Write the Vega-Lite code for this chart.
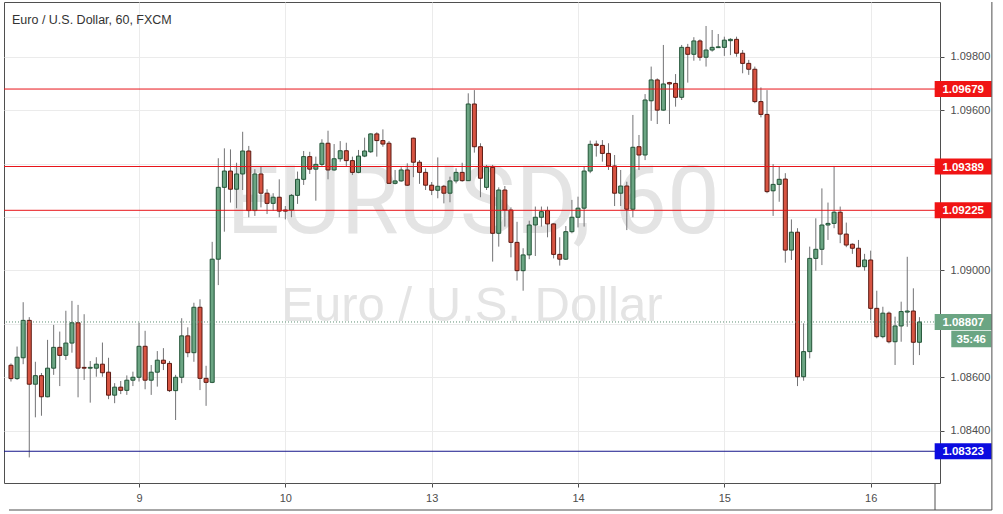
{
  "$schema": "https://vega.github.io/schema/vega-lite/v6.json",
  "width": 936,
  "height": 481,
  "autosize": "none",
  "padding": {"left": 4, "top": 2, "right": 63, "bottom": 31},
  "background": "#ffffff",
  "title": {"text": "Euro / U.S. Dollar, 60, FXCM", "anchor": "start", "frame": "group", "orient": "top", "offset": -23, "dx": 8, "dy": 12, "fontSize": 12.5, "font": "Liberation Sans", "fontWeight": "normal", "color": "#333333", "baseline": "alphabetic"},
  "config": {
    "view": {"stroke": "#4f4f4f", "strokeWidth": 1},
    "axis": {"labelFont": "Liberation Sans", "labelFontSize": 11, "labelColor": "#4d4d4d", "tickColor": "#4d4d4d", "gridColor": "#ebebeb", "domain": false}
  },
  "datasets": {
    "candles": [
      {"i":0,"o":1.08645,"h":1.08652,"l":1.08584,"c":1.08595},
      {"i":1,"o":1.08595,"h":1.08715,"l":1.08590,"c":1.08675},
      {"i":2,"o":1.08673,"h":1.08881,"l":1.08649,"c":1.08813},
      {"i":3,"o":1.08813,"h":1.08825,"l":1.08300,"c":1.08574},
      {"i":4,"o":1.08574,"h":1.08658,"l":1.08450,"c":1.08606},
      {"i":5,"o":1.08606,"h":1.08616,"l":1.08456,"c":1.08527},
      {"i":6,"o":1.08527,"h":1.08740,"l":1.08525,"c":1.08634},
      {"i":7,"o":1.08634,"h":1.08796,"l":1.08609,"c":1.08712},
      {"i":8,"o":1.08712,"h":1.08771,"l":1.08567,"c":1.08682},
      {"i":9,"o":1.08682,"h":1.08849,"l":1.08665,"c":1.08728},
      {"i":10,"o":1.08728,"h":1.08886,"l":1.08692,"c":1.08804},
      {"i":11,"o":1.08804,"h":1.08871,"l":1.08525,"c":1.08634},
      {"i":12,"o":1.08637,"h":1.08836,"l":1.08590,"c":1.08634},
      {"i":13,"o":1.08634,"h":1.08661,"l":1.08505,"c":1.08637},
      {"i":14,"o":1.08634,"h":1.08675,"l":1.08602,"c":1.08649},
      {"i":15,"o":1.08649,"h":1.08730,"l":1.08602,"c":1.08617},
      {"i":16,"o":1.08619,"h":1.08673,"l":1.08518,"c":1.08533},
      {"i":17,"o":1.08533,"h":1.08578,"l":1.08503,"c":1.08563},
      {"i":18,"o":1.08563,"h":1.08586,"l":1.08537,"c":1.08551},
      {"i":19,"o":1.08551,"h":1.08607,"l":1.08534,"c":1.08589},
      {"i":20,"o":1.08589,"h":1.08621,"l":1.08567,"c":1.08600},
      {"i":21,"o":1.08600,"h":1.08804,"l":1.08584,"c":1.08716},
      {"i":22,"o":1.08716,"h":1.08774,"l":1.08555,"c":1.08589},
      {"i":23,"o":1.08589,"h":1.08646,"l":1.08534,"c":1.08619},
      {"i":24,"o":1.08619,"h":1.08698,"l":1.08565,"c":1.08664},
      {"i":25,"o":1.08664,"h":1.08709,"l":1.08627,"c":1.08652},
      {"i":26,"o":1.08652,"h":1.08661,"l":1.08545,"c":1.08550},
      {"i":27,"o":1.08550,"h":1.08609,"l":1.08440,"c":1.08600},
      {"i":28,"o":1.08600,"h":1.08821,"l":1.08578,"c":1.08755},
      {"i":29,"o":1.08755,"h":1.08787,"l":1.08675,"c":1.08692},
      {"i":30,"o":1.08692,"h":1.08879,"l":1.08658,"c":1.08862},
      {"i":31,"o":1.08862,"h":1.08892,"l":1.08552,"c":1.08596},
      {"i":32,"o":1.08596,"h":1.08643,"l":1.08493,"c":1.08581},
      {"i":33,"o":1.08581,"h":1.09107,"l":1.08578,"c":1.09042},
      {"i":34,"o":1.09042,"h":1.09420,"l":1.08945,"c":1.09311},
      {"i":35,"o":1.09311,"h":1.09457,"l":1.09145,"c":1.09372},
      {"i":36,"o":1.09372,"h":1.09453,"l":1.09254,"c":1.09304},
      {"i":37,"o":1.09304,"h":1.09403,"l":1.09233,"c":1.09361},
      {"i":38,"o":1.09361,"h":1.09519,"l":1.09301,"c":1.09447},
      {"i":39,"o":1.09447,"h":1.09466,"l":1.09199,"c":1.09224},
      {"i":40,"o":1.09224,"h":1.09379,"l":1.09204,"c":1.09361},
      {"i":41,"o":1.09361,"h":1.09388,"l":1.09236,"c":1.09289},
      {"i":42,"o":1.09289,"h":1.09304,"l":1.09211,"c":1.09251},
      {"i":43,"o":1.09251,"h":1.09289,"l":1.09224,"c":1.09274},
      {"i":44,"o":1.09274,"h":1.09341,"l":1.09199,"c":1.09222},
      {"i":45,"o":1.09226,"h":1.09241,"l":1.09191,"c":1.09222},
      {"i":46,"o":1.09226,"h":1.09286,"l":1.09199,"c":1.09281},
      {"i":47,"o":1.09281,"h":1.09370,"l":1.09249,"c":1.09341},
      {"i":48,"o":1.09341,"h":1.09447,"l":1.09320,"c":1.09426},
      {"i":49,"o":1.09426,"h":1.09444,"l":1.09361,"c":1.09379},
      {"i":50,"o":1.09379,"h":1.09426,"l":1.09261,"c":1.09397},
      {"i":51,"o":1.09397,"h":1.09491,"l":1.09391,"c":1.09476},
      {"i":52,"o":1.09476,"h":1.09523,"l":1.09341,"c":1.09376},
      {"i":53,"o":1.09376,"h":1.09473,"l":1.09373,"c":1.09418},
      {"i":54,"o":1.09418,"h":1.09484,"l":1.09407,"c":1.09448},
      {"i":55,"o":1.09448,"h":1.09478,"l":1.09391,"c":1.09411},
      {"i":56,"o":1.09411,"h":1.09426,"l":1.09357,"c":1.09367},
      {"i":57,"o":1.09367,"h":1.09451,"l":1.09364,"c":1.09428},
      {"i":58,"o":1.09428,"h":1.09497,"l":1.09424,"c":1.09447},
      {"i":59,"o":1.09444,"h":1.09513,"l":1.09440,"c":1.09511},
      {"i":60,"o":1.09511,"h":1.09517,"l":1.09426,"c":1.09486},
      {"i":61,"o":1.09486,"h":1.09528,"l":1.09463,"c":1.09473},
      {"i":62,"o":1.09476,"h":1.09484,"l":1.09324,"c":1.09326},
      {"i":63,"o":1.09326,"h":1.09376,"l":1.09322,"c":1.09335},
      {"i":64,"o":1.09335,"h":1.09386,"l":1.09332,"c":1.09376},
      {"i":65,"o":1.09376,"h":1.09401,"l":1.09316,"c":1.09319},
      {"i":66,"o":1.09495,"h":1.09497,"l":1.09349,"c":1.09405},
      {"i":67,"o":1.09405,"h":1.09413,"l":1.09324,"c":1.09367},
      {"i":68,"o":1.09367,"h":1.09382,"l":1.09301,"c":1.09319},
      {"i":69,"o":1.09319,"h":1.09331,"l":1.09282,"c":1.09300},
      {"i":70,"o":1.09300,"h":1.09423,"l":1.09270,"c":1.09315},
      {"i":71,"o":1.09315,"h":1.09320,"l":1.09251,"c":1.09289},
      {"i":72,"o":1.09289,"h":1.09351,"l":1.09255,"c":1.09335},
      {"i":73,"o":1.09335,"h":1.09382,"l":1.09326,"c":1.09367},
      {"i":74,"o":1.09367,"h":1.09403,"l":1.09332,"c":1.09336},
      {"i":75,"o":1.09336,"h":1.09663,"l":1.09335,"c":1.09623},
      {"i":76,"o":1.09623,"h":1.09675,"l":1.09441,"c":1.09463},
      {"i":77,"o":1.09463,"h":1.09476,"l":1.09274,"c":1.09345},
      {"i":78,"o":1.09311,"h":1.09395,"l":1.09301,"c":1.09386},
      {"i":79,"o":1.09386,"h":1.09395,"l":1.09033,"c":1.09139},
      {"i":80,"o":1.09139,"h":1.09311,"l":1.09089,"c":1.09301},
      {"i":81,"o":1.09301,"h":1.09316,"l":1.09164,"c":1.09226},
      {"i":82,"o":1.09226,"h":1.09236,"l":1.09049,"c":1.09105},
      {"i":83,"o":1.09105,"h":1.09182,"l":1.08962,"c":1.08999},
      {"i":84,"o":1.08999,"h":1.09083,"l":1.08924,"c":1.09058},
      {"i":85,"o":1.09058,"h":1.09186,"l":1.09042,"c":1.09170},
      {"i":86,"o":1.09170,"h":1.09239,"l":1.09054,"c":1.09199},
      {"i":87,"o":1.09199,"h":1.09239,"l":1.09164,"c":1.09220},
      {"i":88,"o":1.09224,"h":1.09239,"l":1.09124,"c":1.09174},
      {"i":89,"o":1.09174,"h":1.09176,"l":1.09045,"c":1.09060},
      {"i":90,"o":1.09060,"h":1.09124,"l":1.09018,"c":1.09042},
      {"i":91,"o":1.09042,"h":1.09166,"l":1.09039,"c":1.09145},
      {"i":92,"o":1.09145,"h":1.09264,"l":1.09139,"c":1.09199},
      {"i":93,"o":1.09199,"h":1.09276,"l":1.09161,"c":1.09233},
      {"i":94,"o":1.09233,"h":1.09388,"l":1.09164,"c":1.09372},
      {"i":95,"o":1.09372,"h":1.09486,"l":1.09364,"c":1.09472},
      {"i":96,"o":1.09473,"h":1.09486,"l":1.09426,"c":1.09468},
      {"i":97,"o":1.09468,"h":1.09488,"l":1.09407,"c":1.09438},
      {"i":98,"o":1.09438,"h":1.09476,"l":1.09376,"c":1.09391},
      {"i":99,"o":1.09391,"h":1.09432,"l":1.09241,"c":1.09289},
      {"i":100,"o":1.09289,"h":1.09376,"l":1.09241,"c":1.09316},
      {"i":101,"o":1.09316,"h":1.09332,"l":1.09151,"c":1.09229},
      {"i":102,"o":1.09229,"h":1.09582,"l":1.09199,"c":1.09461},
      {"i":103,"o":1.09463,"h":1.09507,"l":1.09376,"c":1.09432},
      {"i":104,"o":1.09432,"h":1.09660,"l":1.09413,"c":1.09638},
      {"i":105,"o":1.09635,"h":1.09763,"l":1.09560,"c":1.09713},
      {"i":106,"o":1.09713,"h":1.09719,"l":1.09548,"c":1.09600},
      {"i":107,"o":1.09600,"h":1.09844,"l":1.09598,"c":1.09698},
      {"i":108,"o":1.09703,"h":1.09706,"l":1.09548,"c":1.09698},
      {"i":109,"o":1.09700,"h":1.09735,"l":1.09613,"c":1.09648},
      {"i":110,"o":1.09648,"h":1.09844,"l":1.09638,"c":1.09835},
      {"i":111,"o":1.09835,"h":1.09848,"l":1.09703,"c":1.09809},
      {"i":112,"o":1.09809,"h":1.09873,"l":1.09785,"c":1.09859},
      {"i":113,"o":1.09859,"h":1.09865,"l":1.09785,"c":1.09798},
      {"i":114,"o":1.09798,"h":1.09915,"l":1.09763,"c":1.09825},
      {"i":115,"o":1.09825,"h":1.09900,"l":1.09819,"c":1.09835},
      {"i":116,"o":1.09834,"h":1.09885,"l":1.09833,"c":1.09837},
      {"i":117,"o":1.09835,"h":1.09875,"l":1.09803,"c":1.09862},
      {"i":118,"o":1.09860,"h":1.09869,"l":1.09806,"c":1.09865},
      {"i":119,"o":1.09865,"h":1.09875,"l":1.09800,"c":1.09813},
      {"i":120,"o":1.09813,"h":1.09825,"l":1.09738,"c":1.09775},
      {"i":121,"o":1.09775,"h":1.09788,"l":1.09732,"c":1.09753},
      {"i":122,"o":1.09753,"h":1.09763,"l":1.09626,"c":1.09632},
      {"i":123,"o":1.09632,"h":1.09685,"l":1.09573,"c":1.09584},
      {"i":124,"o":1.09584,"h":1.09675,"l":1.09289,"c":1.09295},
      {"i":125,"o":1.09298,"h":1.09398,"l":1.09204,"c":1.09322},
      {"i":126,"o":1.09322,"h":1.09388,"l":1.09257,"c":1.09341},
      {"i":127,"o":1.09342,"h":1.09364,"l":1.09029,"c":1.09076},
      {"i":128,"o":1.09076,"h":1.09191,"l":1.09039,"c":1.09143},
      {"i":129,"o":1.09143,"h":1.09158,"l":1.08567,"c":1.08602},
      {"i":130,"o":1.08602,"h":1.08802,"l":1.08587,"c":1.08696},
      {"i":131,"o":1.08696,"h":1.09089,"l":1.08671,"c":1.09045},
      {"i":132,"o":1.09045,"h":1.09195,"l":1.08999,"c":1.09079},
      {"i":133,"o":1.09079,"h":1.09307,"l":1.09020,"c":1.09170},
      {"i":134,"o":1.09170,"h":1.09254,"l":1.09114,"c":1.09176},
      {"i":135,"o":1.09176,"h":1.09391,"l":1.09158,"c":1.09218},
      {"i":136,"o":1.09218,"h":1.09239,"l":1.09102,"c":1.09136},
      {"i":137,"o":1.09136,"h":1.09179,"l":1.09087,"c":1.09095},
      {"i":138,"o":1.09098,"h":1.09101,"l":1.09062,"c":1.09083},
      {"i":139,"o":1.09083,"h":1.09114,"l":1.09012,"c":1.09014},
      {"i":140,"o":1.09014,"h":1.09062,"l":1.08999,"c":1.09039},
      {"i":141,"o":1.09039,"h":1.09074,"l":1.08814,"c":1.08858},
      {"i":142,"o":1.08858,"h":1.08924,"l":1.08746,"c":1.08752},
      {"i":143,"o":1.08752,"h":1.08864,"l":1.08746,"c":1.08840},
      {"i":144,"o":1.08840,"h":1.08846,"l":1.08727,"c":1.08733},
      {"i":145,"o":1.08733,"h":1.08827,"l":1.08646,"c":1.08792},
      {"i":146,"o":1.08792,"h":1.08883,"l":1.08733,"c":1.08846},
      {"i":147,"o":1.08844,"h":1.09051,"l":1.08789,"c":1.08848},
      {"i":148,"o":1.08848,"h":1.08933,"l":1.08646,"c":1.08731},
      {"i":149,"o":1.08731,"h":1.08825,"l":1.08683,"c":1.08807}
    ],
    "levels": [
      {"p": 1.09679, "k": "r", "t": "1.09679"},
      {"p": 1.09389, "k": "r", "t": "1.09389"},
      {"p": 1.09225, "k": "r", "t": "1.09225"},
      {"p": 1.08323, "k": "b", "t": "1.08323"},
      {"p": 1.08807, "k": "g", "t": "1.08807"}
    ]
  },
  "layer": [
    {
      "data": {"values": [{"t": "EURUSD, 60"}]},
      "mark": {"type": "text", "font": "Roboto", "fontSize": 94, "color": "#e4e4e4", "align": "center", "baseline": "alphabetic"},
      "encoding": {
        "text": {"field": "t"},
        "x": {"datum": 75.8, "type": "quantitative"},
        "y": {"datum": 1.0914, "type": "quantitative"}
      }
    },
    {
      "data": {"values": [{"t": "Euro / U.S. Dollar"}]},
      "mark": {"type": "text", "font": "Liberation Sans", "fontSize": 49, "color": "#e4e4e4", "align": "center", "baseline": "alphabetic"},
      "encoding": {
        "text": {"field": "t"},
        "x": {"datum": 75.6, "type": "quantitative"},
        "y": {"datum": 1.08811, "type": "quantitative"}
      }
    },
    {
      "data": {"name": "candles"},
      "mark": {"type": "rule", "color": "#737375", "strokeWidth": 1},
      "encoding": {
        "x": {"field": "i", "type": "quantitative",
          "scale": {"domain": [-0.3245, 151.55], "nice": false, "zero": false},
          "axis": {"title": null, "values": [21, 45, 69, 93, 117, 141], "grid": true, "tickSize": 4, "labelPadding": 5,
            "labelExpr": "datum.value == 21 ? '9' : datum.value == 45 ? '10' : datum.value == 69 ? '13' : datum.value == 93 ? '14' : datum.value == 117 ? '15' : '16'"}},
        "y": {"field": "l", "type": "quantitative",
          "scale": {"domain": [1.082042, 1.100048], "nice": false, "zero": false},
          "axis": {"title": null, "orient": "right", "values": [1.084, 1.086, 1.088, 1.09, 1.092, 1.094, 1.096, 1.098], "format": ".5f", "grid": true, "tickSize": 4, "labelPadding": 6,
            "labelExpr": "abs(datum.value - 1.094) < 0.00001 || abs(datum.value - 1.092) < 0.00001 || abs(datum.value - 1.088) < 0.00001 ? '' : datum.label"}},
        "y2": {"field": "h"}
      }
    },
    {
      "data": {"name": "candles"},
      "mark": {"type": "bar", "width": 4, "strokeWidth": 1},
      "encoding": {
        "x": {"field": "i", "type": "quantitative"},
        "y": {"field": "o", "type": "quantitative"},
        "y2": {"field": "c"},
        "fill": {"condition": {"test": "datum.c >= datum.o", "value": "#6ba583"}, "value": "#d75442"},
        "stroke": {"condition": {"test": "datum.c >= datum.o", "value": "#225437"}, "value": "#5b1a13"}
      }
    },
    {
      "data": {"name": "levels"},
      "transform": [{"filter": "datum.k != 'g'"}],
      "mark": {"type": "rule", "strokeWidth": 1},
      "encoding": {
        "y": {"field": "p", "type": "quantitative"},
        "stroke": {"field": "k", "type": "nominal", "scale": {"domain": ["r", "b"], "range": ["#e8141a", "#16168a"]}, "legend": null}
      }
    },
    {
      "data": {"name": "levels"},
      "transform": [{"filter": "datum.k == 'g'"}],
      "mark": {"type": "rule", "strokeWidth": 1, "strokeDash": [1, 2], "color": "#5f8f73"},
      "encoding": {
        "y": {"field": "p", "type": "quantitative"}
      }
    },
    {
      "data": {"name": "levels"},
      "mark": {"type": "point", "shape": "M-1,-0.281L1,-0.281L1,0.281L-1,0.281Z", "size": 3249, "filled": true, "opacity": 1, "strokeWidth": 0},
      "encoding": {
        "x": {"datum": 156.17, "type": "quantitative"},
        "y": {"field": "p", "type": "quantitative"},
        "fill": {"field": "k", "type": "nominal", "scale": {"domain": ["r", "b", "g"], "range": ["#f01414", "#0b0be0", "#6ba583"]}, "legend": null}
      }
    },
    {
      "data": {"name": "levels"},
      "mark": {"type": "text", "font": "Liberation Sans", "fontSize": 11.5, "fontWeight": "bold", "color": "#ffffff", "align": "center", "baseline": "middle", "dy": 1},
      "encoding": {
        "x": {"datum": 156.17, "type": "quantitative"},
        "y": {"field": "p", "type": "quantitative"},
        "text": {"field": "t"}
      }
    },
    {
      "data": {"values": [{"p": 1.08807, "t": "35:46"}]},
      "mark": {"type": "point", "shape": "M-1,-0.41L1,-0.41L1,0.41L-1,0.41Z", "size": 1600, "filled": true, "opacity": 1, "strokeWidth": 0, "color": "#6ba583", "yOffset": 17},
      "encoding": {
        "x": {"datum": 157.5, "type": "quantitative"},
        "y": {"field": "p", "type": "quantitative"}
      }
    },
    {
      "data": {"values": [{"p": 1.08807, "t": "35:46"}]},
      "mark": {"type": "text", "font": "Liberation Sans", "fontSize": 11.5, "fontWeight": "bold", "color": "#ffffff", "align": "center", "baseline": "middle", "dy": 18},
      "encoding": {
        "x": {"datum": 157.5, "type": "quantitative"},
        "y": {"field": "p", "type": "quantitative"},
        "text": {"field": "t"}
      }
    },
    {
      "data": {"values": [{"a": -0.3245, "b": 160.88, "p": 1.081031}]},
      "mark": {"type": "rule", "color": "#4f4f4f", "strokeWidth": 1},
      "encoding": {
        "x": {"field": "a", "type": "quantitative"},
        "x2": {"field": "b"},
        "y": {"field": "p", "type": "quantitative"}
      }
    },
    {
      "data": {"values": [{"x": 160.88, "p1": 1.100048, "p2": 1.081031}, {"x": 151.55, "p1": 1.082042, "p2": 1.081031}]},
      "mark": {"type": "rule", "color": "#4f4f4f", "strokeWidth": 1},
      "encoding": {
        "x": {"field": "x", "type": "quantitative"},
        "y": {"field": "p1", "type": "quantitative"},
        "y2": {"field": "p2"}
      }
    }
  ]
}
